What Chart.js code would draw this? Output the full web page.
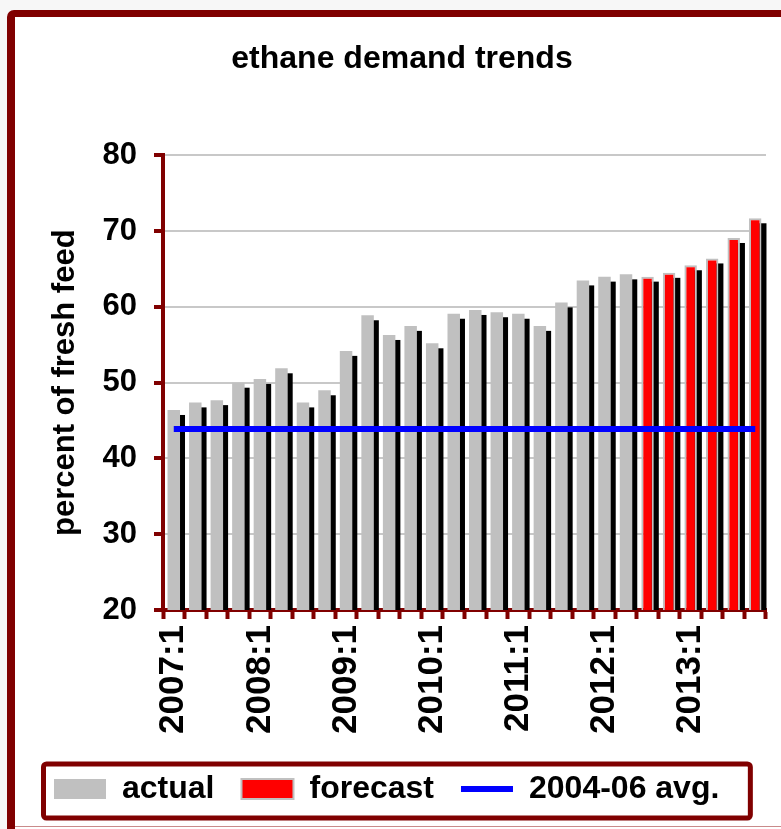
<!DOCTYPE html>
<html><head><meta charset="utf-8">
<script src="https://cdn.jsdelivr.net/npm/chart.js@4.4.0/dist/chart.umd.min.js"></script>
<style>
html,body{margin:0;padding:0;background:#f7f7f7;width:781px;height:829px;overflow:hidden;}
#frame{position:absolute;left:7px;top:10px;width:820px;height:840px;border:8px solid #800000;border-top-width:7px;border-radius:7px;background:#fff;box-sizing:border-box;}
#cut{position:absolute;left:15px;top:826px;width:766px;height:1px;background:#c98a8a;}
canvas{position:absolute;left:0;top:0;}
</style></head><body>
<div id="frame"></div>
<div id="cut"></div>
<canvas id="c" width="781" height="829"></canvas>
<script>
const categories = ['2007:1','2007:2','2007:3','2007:4','2008:1','2008:2','2008:3','2008:4',
  '2009:1','2009:2','2009:3','2009:4','2010:1','2010:2','2010:3','2010:4',
  '2011:1','2011:2','2011:3','2011:4','2012:1','2012:2','2012:3','2012:4',
  '2013:1','2013:2','2013:3','2013:4'];
const actual = [46.4,47.4,47.7,50.0,50.5,51.9,47.4,49.0,54.2,58.9,56.3,57.5,55.2,59.1,59.6,59.3,
  59.1,57.5,60.6,63.5,64.0,64.3,null,null,null,null,null,null];
const forecast = [null,null,null,null,null,null,null,null,null,null,null,null,null,null,null,null,
  null,null,null,null,null,null,64.0,64.5,65.5,66.4,69.1,71.7];
const avg0406 = [43.9,43.9,43.9,43.9,43.9,43.9,43.9,43.9,43.9,43.9,43.9,43.9,43.9,43.9,
  43.9,43.9,43.9,43.9,43.9,43.9,43.9,43.9,43.9,43.9,43.9,43.9,43.9,43.9];
const yTicks = [20,30,40,50,60,70,80];

const FONT = "'Liberation Sans', Arial, sans-serif";
Chart.defaults.font.family = FONT;
Chart.defaults.color = '#000';

const shadowPlugin = {
  id: 'barShadow',
  beforeDatasetsDraw(chart) {
    const ctx = chart.ctx, a = chart.chartArea;
    ctx.save();
    ctx.beginPath();
    ctx.rect(a.left, a.top, a.right - a.left + 10, a.bottom - a.top);
    ctx.clip();
    ctx.fillStyle = '#000';
    chart.data.datasets.forEach((ds, i) => {
      if (ds.type !== 'bar') return;
      const meta = chart.getDatasetMeta(i);
      meta.data.forEach((el, j) => {
        if (ds.data[j] == null) return;
        const p = el.getProps(['x', 'y', 'base', 'width'], true);
        ctx.fillRect(p.x - p.width / 2 + 5, p.y + 5, p.width, p.base - p.y - 5);
      });
    });
    ctx.restore();
  }
};

const legendBoxPlugin = {
  id: 'legendBox',
  afterDraw(chart) {
    const lg = chart.legend;
    if (!lg || !lg.legendHitBoxes || !lg.legendHitBoxes.length) return;
    const hb = lg.legendHitBoxes;
    const first = hb[0], last = hb[hb.length - 1];
    const cy = first.top + 16;
    const left = first.left - 10.5, right = last.left + last.width + 31;
    const top = cy - 25, bottom = cy + 29;
    const ctx = chart.ctx;
    ctx.save();
    ctx.strokeStyle = '#800000';
    ctx.lineWidth = 5;
    ctx.beginPath();
    ctx.roundRect(left, top, right - left, bottom - top, 3);
    ctx.stroke();
    ctx.restore();
  }
};

new Chart(document.getElementById('c'), {
  type: 'bar',
  data: {
    labels: categories,
    datasets: [
      { type: 'bar', label: 'actual', data: actual, backgroundColor: '#c0c0c0', borderWidth: 0,
        grouped: false, barPercentage: 0.58, categoryPercentage: 1, pointStyle: 'rect', order: 1 },
      { type: 'bar', label: 'forecast', data: forecast, backgroundColor: '#ff0000', borderColor: '#c0c0c0',
        borderWidth: 2, grouped: false, barPercentage: 0.58, categoryPercentage: 1, pointStyle: 'rect', order: 1 },
      { type: 'line', label: '2004-06 avg.', data: avg0406, borderColor: '#0000ff', backgroundColor: '#0000ff',
        borderWidth: 6, pointRadius: 0, pointHoverRadius: 0, pointStyle: 'line', pointBorderColor: '#0000ff',
        pointBackgroundColor: '#0000ff', pointBorderWidth: 6, order: 0 }
    ]
  },
  options: {
    responsive: false,
    animation: false,
    layout: { padding: { left: 27, right: 4, top: 40, bottom: 14 } },
    plugins: {
      title: { display: true, text: 'ethane demand trends', color: '#000',
        font: { family: FONT, size: 32, weight: 'bold' }, padding: { top: 0, bottom: 77 } },
      legend: { position: 'bottom', align: 'start',
        labels: { usePointStyle: true, pointStyleWidth: 52, boxHeight: 20, padding: 27, color: '#000',
          font: { family: FONT, size: 32, weight: 'bold' },
          sort: (a, b) => a.datasetIndex - b.datasetIndex } },
      tooltip: { enabled: false }
    },
    scales: {
      x: {
        grid: { offset: true, drawOnChartArea: false, drawTicks: true, tickLength: 9, tickWidth: 4, tickColor: '#800000' },
        border: { color: '#800000', width: 4 },
        ticks: { autoSkip: false, minRotation: 90, maxRotation: 90, padding: 6, color: '#000',
          font: { family: FONT, size: 35, weight: 'bold' },
          callback: function (v) { const l = this.getLabelForValue(v); return l.endsWith(':1') ? l : ''; } },
        afterFit: s => { s.height = 136; s.paddingLeft = 0; s.paddingRight = 15; }
      },
      y: {
        min: yTicks[0], max: yTicks[yTicks.length - 1],
        afterBuildTicks: s => { s.ticks = yTicks.map(v => ({ value: v })); },
        grid: { color: '#c8c8c8', lineWidth: 2, tickLength: 9, tickWidth: 4, tickColor: '#800000' },
        border: { color: '#800000', width: 4 },
        ticks: { padding: 17, color: '#000', font: { family: FONT, size: 31, weight: 'bold' } },
        title: { display: true, text: 'percent of fresh feed', color: '#000',
          font: { family: FONT, size: 31, weight: 'bold' }, padding: { top: 20, bottom: 0 } },
        afterFit: s => { s.width = 136; s.paddingTop = 0; s.paddingBottom = 0; }
      }
    }
  },
  plugins: [shadowPlugin, legendBoxPlugin]
});
</script>
</body></html>
